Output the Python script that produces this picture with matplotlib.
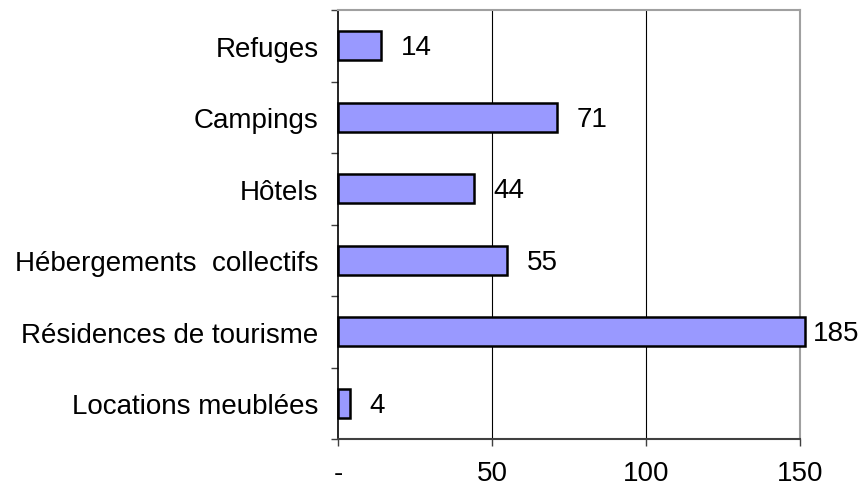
import numpy as np
import matplotlib.pyplot as plt

plt.rcParams['font.family'] = ['Liberation Sans', 'DejaVu Sans']
plt.rcParams['font.size'] = 20

# --- Data (bottom to top) ---
categories = ['Locations meublées', 'Résidences de tourisme', 'Hébergements  collectifs',
              'Hôtels', 'Campings', 'Refuges']
values = [4, 185, 55, 44, 71, 14]
xticks = [0, 50, 100, 150]
xticklabels = ['-', '50', '100', '150']
XMAX = 150

fig = plt.figure(figsize=(8.59, 4.89), dpi=100)
ax = fig.add_axes([0.3935, 0.1002, 0.5378, 0.8773])

y = np.arange(len(categories))
# the longest bar is cut at the axis end, as in the original
shown = [min(v, XMAX + 1.5) for v in values]
bars = ax.barh(y, shown, height=0.4, color='#9999FF', edgecolor='black',
               linewidth=1.8, zorder=3)
for b in bars:
    b.set_clip_on(False)

for yi, v, s in zip(y, values, shown):
    off = 6 if v > XMAX else 14
    ax.annotate(str(v), (s, yi), xytext=(off, -1), textcoords='offset points',
                ha='left', va='center', annotation_clip=False)

ax.set_xlim(0, XMAX)
ax.set_ylim(-0.5, len(categories) - 0.5)

ax.set_xticks(xticks)
ax.set_xticklabels(xticklabels)
ax.tick_params(axis='x', length=5, width=1, pad=10, color='#404040')

ax.set_yticks(y)
ax.set_yticklabels(categories)
ax.tick_params(axis='y', which='major', length=0, pad=14)
ax.set_yticks(np.arange(-0.5, len(categories)), minor=True)
ax.tick_params(axis='y', which='minor', length=5, width=1, color='#404040')

for gx in [50, 100]:
    ax.axvline(gx, color='black', linewidth=0.8, zorder=1)

ax.spines['left'].set_color('black')
ax.spines['left'].set_linewidth(1.2)
ax.spines['bottom'].set_color('#404040')
ax.spines['bottom'].set_linewidth(1.5)
ax.spines['top'].set_color('#a0a0a0')
ax.spines['top'].set_linewidth(1.5)
ax.spines['right'].set_color('#a0a0a0')
ax.spines['right'].set_linewidth(1.5)

plt.savefig('out.png', dpi=100)
